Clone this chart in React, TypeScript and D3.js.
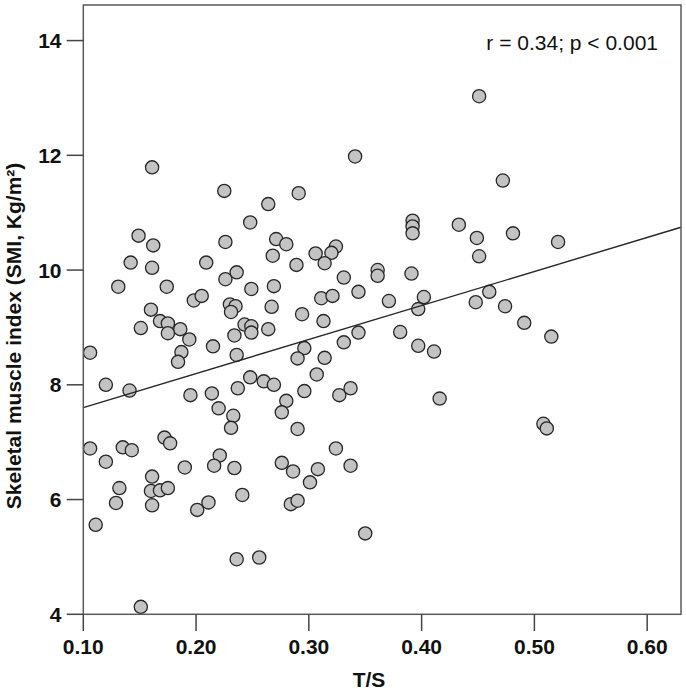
import React from "react";
import * as d3 from "d3";

// T/S ratio (x) and SMI (y)
const tsRatio = [
  0.161, 0.225, 0.248, 0.149, 0.162, 0.226, 0.142, 0.161, 0.209, 0.236,
  0.226, 0.249, 0.131, 0.174, 0.198, 0.205, 0.23, 0.235, 0.231, 0.16,
  0.168, 0.175, 0.151, 0.186, 0.175, 0.194, 0.243, 0.249, 0.249, 0.234,
  0.215, 0.187, 0.184, 0.236, 0.106, 0.12, 0.248, 0.141, 0.195, 0.214,
  0.237, 0.22, 0.233, 0.231, 0.172, 0.177, 0.106, 0.135, 0.143, 0.12,
  0.221, 0.216, 0.19, 0.234, 0.161, 0.132, 0.16, 0.168, 0.175, 0.129,
  0.161, 0.241, 0.201, 0.211, 0.111, 0.236, 0.151, 0.256, 0.341, 0.291,
  0.264, 0.392, 0.392, 0.392, 0.271, 0.28, 0.268, 0.289, 0.306, 0.324,
  0.32, 0.314, 0.269, 0.267, 0.331, 0.361, 0.361, 0.391, 0.344, 0.371,
  0.311, 0.321, 0.294, 0.313, 0.264, 0.381, 0.344, 0.331, 0.296, 0.29,
  0.314, 0.307, 0.26, 0.269, 0.296, 0.327, 0.337, 0.28, 0.276, 0.29,
  0.324, 0.276, 0.286, 0.308, 0.301, 0.337, 0.284, 0.29, 0.35, 0.451,
  0.472, 0.433, 0.449, 0.481, 0.521, 0.451, 0.402, 0.397, 0.46, 0.448,
  0.474, 0.491, 0.515, 0.397, 0.411, 0.416, 0.508, 0.511,
];

const smi = [
  11.79, 11.38, 10.83, 10.6, 10.43, 10.49, 10.13, 10.04, 10.13, 9.96,
  9.84, 9.67, 9.71, 9.71, 9.47, 9.55, 9.4, 9.37, 9.27, 9.31,
  9.11, 9.07, 8.99, 8.97, 8.9, 8.79, 9.05, 9.02, 8.91, 8.86,
  8.67, 8.57, 8.4, 8.52, 8.56, 8.0, 8.13, 7.9, 7.82, 7.85,
  7.94, 7.59, 7.46, 7.25, 7.08, 6.98, 6.89, 6.91, 6.86, 6.66,
  6.77, 6.59, 6.56, 6.55, 6.4, 6.2, 6.15, 6.16, 6.2, 5.94,
  5.9, 6.08, 5.82, 5.95, 5.56, 4.96, 4.13, 4.99, 11.98, 11.34,
  11.15, 10.86, 10.76, 10.64, 10.54, 10.45, 10.25, 10.09, 10.29, 10.41,
  10.3, 10.12, 9.72, 9.36, 9.87, 10.0, 9.9, 9.94, 9.62, 9.46,
  9.51, 9.55, 9.23, 9.11, 8.97, 8.92, 8.91, 8.74, 8.64, 8.46,
  8.47, 8.18, 8.06, 8.0, 7.89, 7.82, 7.94, 7.72, 7.52, 7.23,
  6.89, 6.64, 6.49, 6.53, 6.3, 6.59, 5.92, 5.98, 5.41, 13.03,
  11.56, 10.79, 10.56, 10.64, 10.49, 10.24, 9.53, 9.32, 9.62, 9.44,
  9.37, 9.08, 8.84, 8.68, 8.58, 7.76, 7.32, 7.24,
];

const xTicks = [0.1, 0.2, 0.3, 0.4, 0.5, 0.6];
const yTicks = [4, 6, 8, 10, 12, 14];

// fitted line as drawn in the figure
const fitIntercept = 7.01;
const fitSlope = 5.93;
const statLabel = "r = 0.34; p < 0.001";

const width = 686;
const height = 692;
const left = 83.3;
const right = 681;
const top = 5;
const bottom = 614.3;

const font = "'Liberation Sans', Arial, sans-serif";

export default function App() {
  const x = d3.scaleLinear().domain([0.1, 0.63]).range([left, right]);
  const y = d3.scaleLinear().domain([4, 14.62]).range([bottom, top]);

  const points = tsRatio.map((t, i) => ({ t, s: smi[i] }));
  const fit = d3
    .line<number>()
    .x((d) => x(d))
    .y((d) => y(fitIntercept + fitSlope * d));

  return (
    <svg
      width={width}
      height={height}
      style={{ position: "absolute", left: 0, top: 0, background: "#fff" }}
      fontFamily={font}
    >
      <rect width={width} height={height} fill="#fff" />

      {points.map((p, i) => (
        <circle
          key={i}
          cx={x(p.t)}
          cy={y(p.s)}
          r={6.6}
          fill="#c3c3c3"
          stroke="#262626"
          strokeWidth={1.3}
        />
      ))}

      <path
        d={fit(x.domain()) || ""}
        fill="none"
        stroke="#262626"
        strokeWidth={1.4}
      />

      <rect
        x={left}
        y={top}
        width={right - left}
        height={bottom - top}
        fill="none"
        stroke="#5a5a5a"
        strokeWidth={1.5}
      />

      {yTicks.map((t) => (
        <g key={t}>
          <line x1={66.7} x2={left} y1={y(t)} y2={y(t)} stroke="#444" strokeWidth={1.5} />
          <text
            x={61.5}
            y={y(t) + 7.5}
            textAnchor="end"
            fontSize={21}
            fontWeight="bold"
            fill="#111"
          >
            {t}
          </text>
        </g>
      ))}

      {xTicks.map((t) => (
        <g key={t}>
          <line x1={x(t)} x2={x(t)} y1={bottom} y2={631} stroke="#444" strokeWidth={1.5} />
          <text
            x={x(t)}
            y={654}
            textAnchor="middle"
            fontSize={21}
            fontWeight="bold"
            fill="#111"
          >
            {t.toFixed(2)}
          </text>
        </g>
      ))}

      <text x={369} y={687} textAnchor="middle" fontSize={21} fontWeight="bold" fill="#111">
        T/S
      </text>

      <text
        transform="translate(21,336) rotate(-90)"
        textAnchor="middle"
        fontSize={21}
        fontWeight="bold"
        fill="#111"
      >
        Skeletal muscle index (SMI, Kg/m²)
      </text>

      <text x={658} y={50} textAnchor="end" fontSize={21} fill="#111">
        {statLabel}
      </text>
    </svg>
  );
}
